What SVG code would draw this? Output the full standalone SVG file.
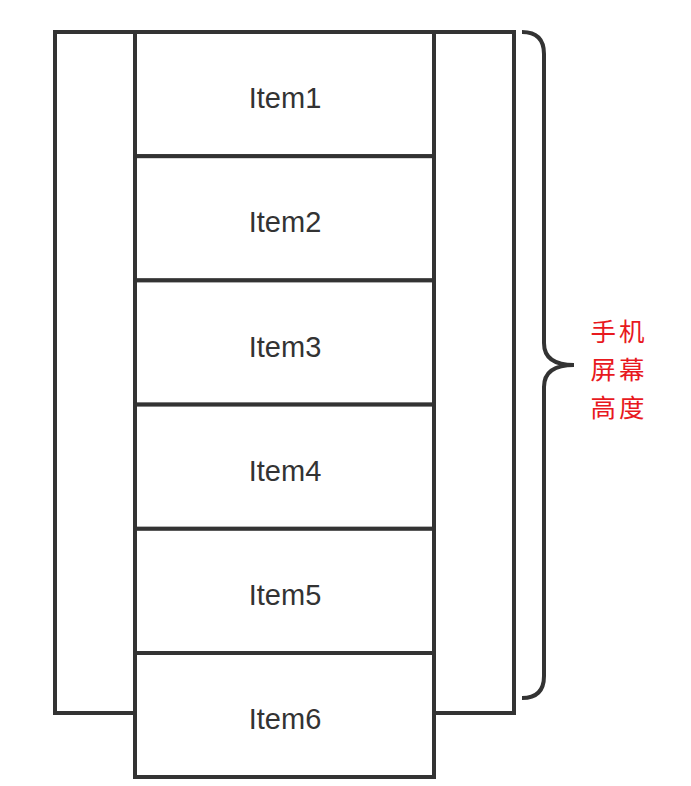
<svg xmlns="http://www.w3.org/2000/svg" width="691" height="786" viewBox="0 0 691 786">
<style>
.box{fill:#fff;stroke:#333;stroke-width:4}
.lbl{font-family:"Liberation Sans","Noto Sans",sans-serif;font-size:29px;fill:#333;text-anchor:middle}
.cn{font-family:"Noto Sans CJK SC",sans-serif;font-size:25.5px;letter-spacing:3px;fill:#e8191e;text-anchor:middle}
.brace{fill:none;stroke:#333;stroke-width:4;stroke-linecap:butt}
</style>
<rect width="691" height="786" fill="#fff"/>
<g id="screen"><rect class="box" x="55" y="32" width="459" height="681"/></g>
<g id="item1"><rect class="box" x="135" y="32" width="299" height="124.2"/><text class="lbl" x="285" y="108">Item1</text></g>
<g id="item2"><rect class="box" x="135" y="156.2" width="299" height="124.2"/><text class="lbl" x="285" y="232">Item2</text></g>
<g id="item3"><rect class="box" x="135" y="280.4" width="299" height="124.2"/><text class="lbl" x="285" y="357">Item3</text></g>
<g id="item4"><rect class="box" x="135" y="404.6" width="299" height="124.2"/><text class="lbl" x="285" y="481">Item4</text></g>
<g id="item5"><rect class="box" x="135" y="528.8" width="299" height="124.2"/><text class="lbl" x="285" y="605">Item5</text></g>
<g id="item6"><rect class="box" x="135" y="653" width="299" height="124"/><text class="lbl" x="285" y="729">Item6</text></g>
<g id="connectors">
<path class="brace" d="M522 32 Q544 32 544 54 L544 343 C544 358 555 365 574 365 C555 365 544 372 544 387 L544 676 Q544 698 522 698"/>
</g>
<g id="label">
<text class="cn" x="619" y="341">手机</text>
<text class="cn" x="619" y="379">屏幕</text>
<text class="cn" x="619" y="417">高度</text>
</g>
</svg>
